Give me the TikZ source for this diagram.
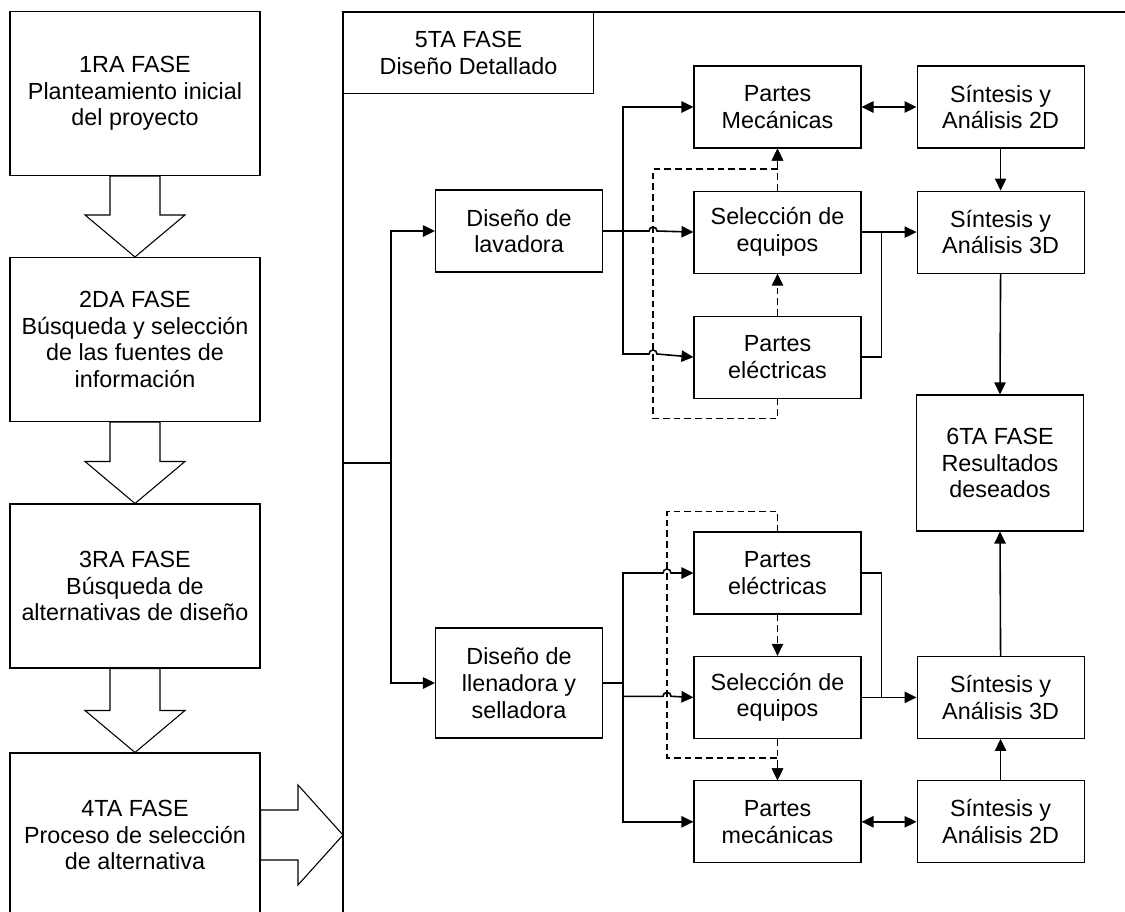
\documentclass[tikz,border=0pt]{standalone}
\usepackage{fontspec}
\setmainfont{Liberation Sans}
\usetikzlibrary{arrows.meta,positioning}

\begin{document}
\begin{tikzpicture}[x=0.75pt, y=-0.75pt, font=\fontsize{17.5pt}{20pt}\selectfont,
        phase/.style={rectangle, draw, line width=0.8pt, inner sep=0pt, align=center, minimum width=187.5pt, minimum height=123pt},
        stage/.style={rectangle, draw, line width=0.8pt, inner sep=0pt, align=center, minimum width=125.25pt, minimum height=61.5pt},
        paths/.style={line width=1.2pt, -{Triangle[length=9pt,width=8.5pt]}},
        twoway/.style={line width=1.2pt, {Triangle[length=9pt,width=8.5pt]}-{Triangle[length=9pt,width=8.5pt]}},
        link/.style={line width=1.2pt},
        feedback/.style={line width=0.9pt, dash pattern=on 5pt off 3pt, -{Triangle[length=9pt,width=8.5pt]}},
        blockarrow/.style={draw, line width=0.8pt, fill=white}
    ]
    \useasboundingbox (0,0) rectangle (1125,911);

        % Phases
        \node[phase] (f1) at (135,93.5) {1RA FASE\\Planteamiento inicial\\del proyecto};
        \node[phase] (f2) at (135,339.5) {2DA FASE\\Búsqueda y selección\\de las fuentes de\\información};
        \node[phase] (f3) at (135,586) {3RA FASE\\Búsqueda de\\alternativas de diseño};
        \node[phase] (f4) at (135,835) {4TA FASE\\Proceso de selección\\de alternativa};

        % Frame of the 5th phase
        \draw[line width=0.8pt] (1140,12) -| (343,930);
        \node[phase, anchor=north west, minimum height=60.75pt] (f5) at (343,12) {5TA FASE\\Diseño Detallado};
        \coordinate (entry) at (343,463);
        \coordinate (trunk) at (391,463);

        % Design nodes
        \node[stage] (lav) at (519,231) {Diseño de\\lavadora};
        \node[stage, minimum height=82.5pt] (llen) at (519,683) {Diseño de\\llenadora y\\selladora};

        \node[stage] (mecA) at (777.5,107) {Partes\\Mecánicas};
        \node[stage, below=31.5pt of mecA] (selA) {Selección de\\equipos};
        \node[stage, below=31.5pt of selA] (elecA) {Partes\\eléctricas};
        \node[stage, right=41.25pt of mecA] (sin2A) {Síntesis y\\Análisis 2D};
        \node[stage, right=41.25pt of selA] (sin3A) {Síntesis y\\Análisis 3D};

        \node[stage, minimum height=102pt] (f6) at (1000,463) {6TA FASE\\Resultados\\deseados};

        \node[stage] (elecB) at (777.5,573) {Partes\\eléctricas};
        \node[stage, below=31pt of elecB] (selB) {Selección de\\equipos};
        \node[stage, below=31pt of selB] (mecB) {Partes\\mecánicas};
        \node[stage, right=41.25pt of selB] (sin3B) {Síntesis y\\Análisis 3D};
        \node[stage, right=41.25pt of mecB] (sin2B) {Síntesis y\\Análisis 2D};

        % Block arrows between phases
        \draw[blockarrow] ([xshift=-18.75pt]f1.south) -- ([xshift=-18.75pt,yshift=31.5pt]f2.north) -- ([xshift=-37.5pt,yshift=31.5pt]f2.north) -- (f2.north) -- ([xshift=37.5pt,yshift=31.5pt]f2.north) -- ([xshift=18.75pt,yshift=31.5pt]f2.north) -- ([xshift=18.75pt]f1.south) -- cycle;
        \draw[blockarrow] ([xshift=-18.75pt]f2.south) -- ([xshift=-18.75pt,yshift=31.5pt]f3.north) -- ([xshift=-37.5pt,yshift=31.5pt]f3.north) -- (f3.north) -- ([xshift=37.5pt,yshift=31.5pt]f3.north) -- ([xshift=18.75pt,yshift=31.5pt]f3.north) -- ([xshift=18.75pt]f2.south) -- cycle;
        \draw[blockarrow] ([xshift=-18.75pt]f3.south) -- ([xshift=-18.75pt,yshift=31.5pt]f4.north) -- ([xshift=-37.5pt,yshift=31.5pt]f4.north) -- (f4.north) -- ([xshift=37.5pt,yshift=31.5pt]f4.north) -- ([xshift=18.75pt,yshift=31.5pt]f4.north) -- ([xshift=18.75pt]f3.south) -- cycle;
        \coordinate (f4tip) at (343,835);
        \draw[blockarrow] ([yshift=18.75pt]f4.east) -- ([xshift=-33.75pt,yshift=18.75pt]f4tip) -- ([xshift=-33.75pt,yshift=37.5pt]f4tip) -- (f4tip) -- ([xshift=-33.75pt,yshift=-37.5pt]f4tip) -- ([xshift=-33.75pt,yshift=-18.75pt]f4tip) -- ([yshift=-18.75pt]f4.east) -- cycle;

        % Paths: entry into the two designs
        \draw[link] (entry) -- (trunk);
        \draw[paths] (trunk) |- (lav.west);
        \draw[paths] (trunk) |- (llen.west);

        % Paths: lavadora
        \coordinate (brA) at (623,231);
        \coordinate (hopA1) at (653,231);
        \coordinate (hopA2) at (653,354);
        \coordinate (dA) at (653,169);
        \draw[paths] (lav.east) -- ([xshift=-3pt]hopA1) arc[start angle=180, end angle=0, radius=3pt] -- (selA.west);
        \draw[paths] (brA) |- (mecA.west);
        \draw[paths] (brA) |- ([xshift=-3pt]hopA2) arc[start angle=180, end angle=0, radius=3pt] -- (elecA.west);
        \draw[feedback] (elecA.south) -- ++(0,20) -| (dA) -| (mecA.south);
        \draw[feedback] (selA.north) -- (mecA.south);
        \draw[feedback] (elecA.north) -- (selA.south);
        \draw[twoway] (mecA.east) -- (sin2A.west);
        \draw[paths] (sin2A.south) -- (sin3A.north);
        \draw[paths] (selA.east) -- (sin3A.west);
        \draw[link] (elecA.east) -| ([xshift=15pt]selA.east);
        \draw[paths] (sin3A.south) -- (f6.north);

        % Paths: llenadora y selladora
        \coordinate (brB) at (623,683);
        \coordinate (hopB1) at (667,573);
        \coordinate (hopB2) at (667,696.3);
        \coordinate (dB) at (667,758);
        \draw[link] (llen.east) -- (brB);
        \draw[paths] (brB) |- ([xshift=-3pt]hopB1) arc[start angle=180, end angle=0, radius=3pt] -- (elecB.west);
        \draw[paths] (brB) |- ([xshift=-3pt]hopB2) arc[start angle=180, end angle=0, radius=3pt] -- (selB.west);
        \draw[paths] (brB) |- (mecB.west);
        \draw[feedback] (elecB.north) -- ++(0,-20) -| (dB) -| (mecB.north);
        \draw[feedback] (elecB.south) -- (selB.north);
        \draw[feedback] (selB.south) -- (mecB.north);
        \draw[twoway] (mecB.east) -- (sin2B.west);
        \draw[paths] (sin2B.north) -- (sin3B.south);
        \draw[paths] (selB.east) -- (sin3B.west);
        \draw[link] (elecB.east) -| ([xshift=15pt]selB.east);
        \draw[paths] (sin3B.north) -- (f6.south);

    \end{tikzpicture}
\end{document}
